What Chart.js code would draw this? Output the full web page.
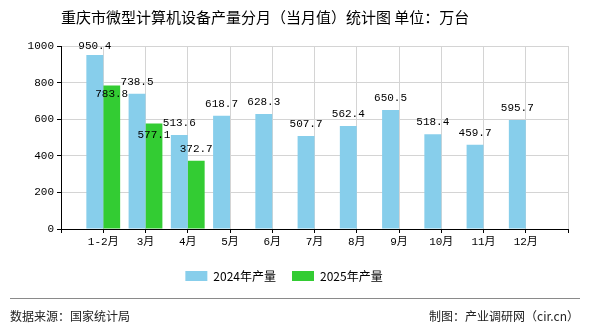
<!DOCTYPE html>
<html>
<head>
<meta charset="utf-8">
<script src="https://cdn.jsdelivr.net/npm/chart.js@4/dist/chart.umd.min.js"></script>
<style>
  html, body { margin: 0; padding: 0; background: #fff; }
  #wrap { position: relative; width: 590px; height: 330px; overflow: hidden; }
  #cv { position: absolute; left: 0; top: 0; }
  .title {
    position: absolute; left: 61px; top: 6px;
    font: 15px "Noto Sans CJK SC", sans-serif; color: #000; white-space: nowrap;
  }
  .rule { position: absolute; left: 10px; width: 570px; top: 298px; height: 1px; background: #8a8a8a; }
  .foot {
    position: absolute; top: 307px;
    font: 12px "Noto Sans CJK SC", sans-serif; color: #222; white-space: nowrap;
  }
  .foot.left { left: 10px; }
  .foot.right { right: 11px; }
</style>
</head>
<body>
<div id="wrap">
  <canvas id="cv" width="590" height="330"></canvas>
  <div class="title">重庆市微型计算机设备产量分月（当月值）统计图 单位：万台</div>
  <div class="rule"></div>
  <div class="foot left">数据来源：国家统计局</div>
  <div class="foot right">制图：产业调研网（cir.cn）</div>
</div>
<script>
"use strict";

// ---- data ----
const categories = ["1-2月", "3月", "4月", "5月", "6月", "7月", "8月", "9月", "10月", "11月", "12月"];
const series2024 = [950.4, 738.5, 513.6, 618.7, 628.3, 507.7, 562.4, 650.5, 518.4, 459.7, 595.7];
const series2025 = [783.8, 577.1, 372.7];
const seriesNames = ["2024年产量", "2025年产量"];
const yTicks = [0, 200, 400, 600, 800, 1000];

const COLORS = { a: "#87CEEB", b: "#33CC33", grid: "#d4d4d4", axis: "#000" };
const MONO = '"Liberation Mono", "Noto Sans CJK SC", monospace';

// the axis has an empty slot on each side of the months
const pad = (arr) => [null, ...categories.map((_, i) => (i < arr.length ? arr[i] : null)), null];
const labels = ["", ...categories, ""];

// value labels above bars, pushed down if they collide with one already drawn
const valueLabels = {
    id: "valueLabels",
    afterDatasetsDraw(chart) {
        const ctx = chart.ctx;
        const placed = [];
        ctx.save();
        ctx.font = "11px " + MONO;
        ctx.fillStyle = "#000";
        ctx.textAlign = "center";
        ctx.textBaseline = "middle";
        chart.data.datasets.forEach((ds, di) => {
            chart.getDatasetMeta(di).data.forEach((bar, i) => {
                const v = ds.data[i];
                if (v == null) return;
                const txt = v.toFixed(1);
                const w = ctx.measureText(txt).width, h = 12;
                let x = bar.x, y = bar.y - 12;
                if (y < chart.chartArea.top) y = bar.y - 9;
                for (const p of placed) {
                    if (Math.abs(p.x - x) < (p.w + w) / 2 && Math.abs(p.y - y) < h) {
                        y = p.y + h;
                    }
                }
                placed.push({ x, y, w });
                ctx.fillText(txt, x, y);
            });
        });
        ctx.restore();
    }
};

new Chart(document.getElementById("cv"), {
    type: "bar",
    data: {
        labels,
        datasets: [
            { label: seriesNames[0], data: pad(series2024), backgroundColor: COLORS.a },
            { label: seriesNames[1], data: pad(series2025), backgroundColor: COLORS.b }
        ]
    },
    options: {
        responsive: false,
        animation: false,
        devicePixelRatio: 1,
        layout: { padding: { left: 0, right: 22, top: 46, bottom: 38 } },
        datasets: { bar: { categoryPercentage: 0.8, barPercentage: 1.0 } },
        plugins: {
            title: { display: false },
            tooltip: { enabled: false },
            legend: {
                position: "bottom",
                labels: {
                    boxWidth: 22, boxHeight: 10, padding: 16,
                    color: "#000",
                    font: { family: '"Noto Sans CJK SC", sans-serif', size: 12 }
                }
            }
        },
        scales: {
            x: {
                offset: false,
                grid: { offset: false, color: COLORS.grid, tickColor: COLORS.axis, tickLength: 4 },
                border: { color: COLORS.axis, width: 1 },
                ticks: { color: "#000", autoSkip: false, maxRotation: 0, padding: 2,
                         font: { family: MONO, size: 11 } },
                afterFit(s) { s.height = 25; }
            },
            y: {
                min: yTicks[0],
                max: yTicks[yTicks.length - 1],
                afterBuildTicks(s) { s.ticks = yTicks.map(v => ({ value: v })); },
                grid: { color: COLORS.grid, tickColor: COLORS.axis, tickLength: 4 },
                border: { color: COLORS.axis, width: 1 },
                ticks: { color: "#000", padding: 3, font: { family: MONO, size: 11 },
                         callback: (v) => String(v) },
                afterFit(s) { s.width = 61; }
            }
        }
    },
    plugins: [valueLabels]
});
</script>
</body>
</html>
